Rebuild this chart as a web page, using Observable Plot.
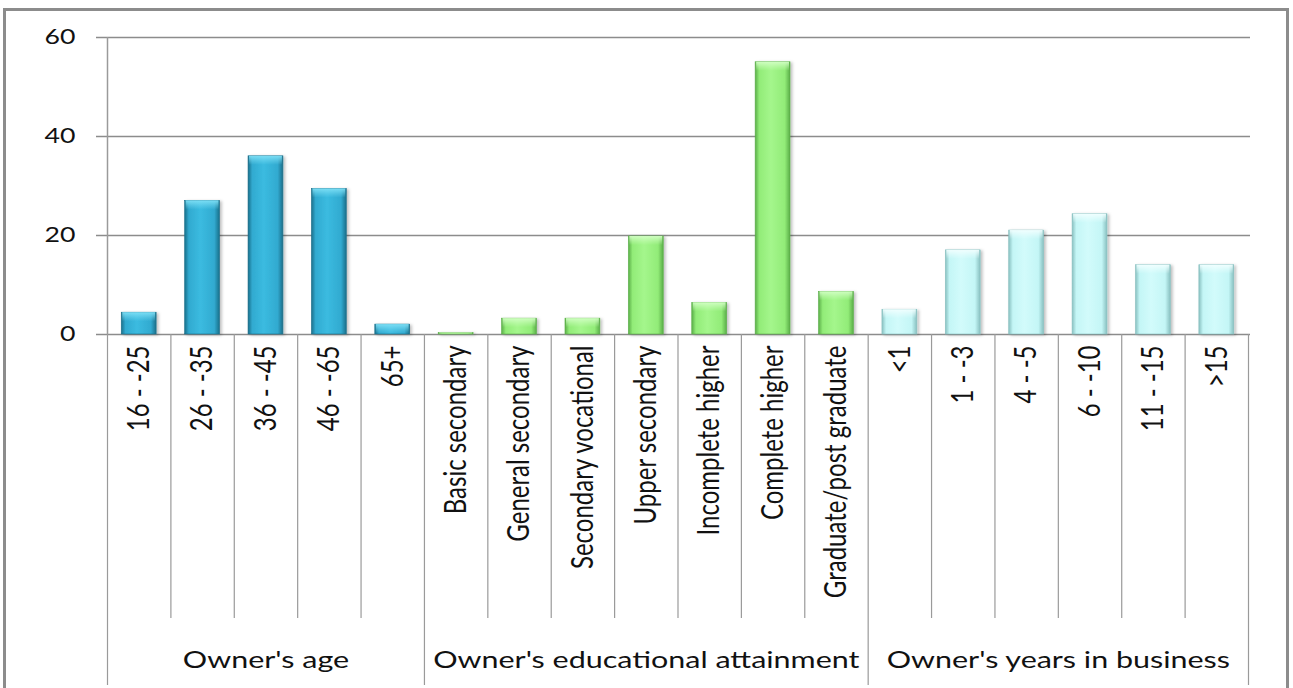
<!DOCTYPE html>
<html><head><meta charset="utf-8">
<script src="https://cdn.jsdelivr.net/npm/d3@7"></script>
<script src="https://cdn.jsdelivr.net/npm/@observablehq/plot@0.6"></script>
<style>
html,body{margin:0;padding:0;background:#fff;overflow:hidden}
#wrap{position:relative;width:1293px;height:688px;overflow:hidden}
#frame{position:absolute;left:3px;top:8px;width:1280px;height:700px;border:3px solid #8c8c8c;border-bottom:none;pointer-events:none}
#chart{position:absolute;left:0;top:0}
</style></head><body>
<div id="wrap"><div id="chart"></div><div id="frame"></div></div>
<script>
// ---- data ----
const groups = ["Owner's age", "Owner's educational attainment", "Owner's years in business"];
const ageCats = ["16 - -25", "26 - -35", "36 - -45", "46 - -65", "65+"];
const ageVals = [4.4, 27, 36, 29.4, 2];
const eduCats = ["Basic secondary", "General secondary", "Secondary vocational", "Upper secondary", "Incomplete higher", "Complete higher", "Graduate/post graduate"];
const eduVals = [0.3, 3.2, 3.2, 19.8, 6.4, 55, 8.6];
const yrsCats = ["<1", "1 - -3", "4 - -5", "6 - -10", "11 - -15", ">15"];
const yrsVals = [5, 17, 21, 24.3, 14, 14];
const yTicks = [0, 20, 40, 60];

const groupCats = [ageCats, eduCats, yrsCats];
const groupVals = [ageVals, eduVals, yrsVals];
const gradColors = [
  {edge: "#1a6f8a", mid: "#31aad0", light: "#3bbbe0", top: "#7fe0f6"},
  {edge: "#5aae48", mid: "#92ec78", light: "#a4f68c", top: "#d2ffc4"},
  {edge: "#88c0c0", mid: "#c4f6f6", light: "#d2fbfb", top: "#f2ffff"}
];

const rows = [];
groupCats.forEach((cats, gi) => cats.forEach((c, i) => rows.push({group: groups[gi], gi, cat: c, value: groupVals[gi][i]})));
const allCats = rows.map(d => d.cat);

// ---- layout ----
const W = 1293, H = 688;
const mL = 107, mR = 45, mT = 37, mB = 354;
const catDepth = 284, groupDepth = 351, labelGap = 11, groupLabelDrop = 326, bevel = 9;
const yMax = yTicks[yTicks.length - 1];
const ppu = (H - mT - mB) / yMax;
const step = (W - mL - mR) / allCats.length;
const font = "Lato, 'Open Sans', sans-serif";
const stretch = 1.27;

const firstCats = groupCats.map(c => c[0]);
const innerCats = allCats.filter(c => !firstCats.includes(c));
const lastCat = allCats[allCats.length - 1];

const groupLabelRows = groupCats.map((cats, gi) => {
  const m = (cats.length - 1) / 2;
  return {group: groups[gi], cat: cats[Math.floor(m)], off: (m - Math.floor(m)) * step};
});

const marks = [
  Plot.ruleY(yTicks, {y: d => d, stroke: "#8c8c8c", strokeWidth: 1.5, insetLeft: -11, insetRight: -2}),
  // category separators
  Plot.ruleX(innerCats, {x: d => d, y1: 0, y2: -catDepth / ppu, dx: -step / 2, stroke: "#9a9a9a", strokeWidth: 1.2}),
  Plot.ruleX(firstCats, {x: d => d, y1: 0, y2: -groupDepth / ppu, dx: -step / 2, stroke: "#9a9a9a", strokeWidth: 1.2}),
  Plot.ruleX([lastCat], {x: d => d, y1: 0, y2: -groupDepth / ppu, dx: step / 2, stroke: "#9a9a9a", strokeWidth: 1.2}),
  Plot.ruleX([allCats[0]], {x: d => d, y1: 0, y2: yMax, dx: -step / 2, stroke: "#9a9a9a", strokeWidth: 1.5}),
  // bars
  ...groups.map((g, gi) => Plot.barY(rows.filter(d => d.gi === gi), {
    x: "cat", y: "value", fill: `url(#barGrad${gi})`, stroke: gradColors[gi].edge, strokeWidth: 0.6,
    className: "bars"
  })),
  // bevel highlight on bar tops
  ...groups.map((g, gi) => Plot.barY(rows.filter(d => d.gi === gi), {
    x: "cat", y1: d => Math.max(0, d.value - bevel / ppu), y2: "value", fill: `url(#topGrad${gi})`,
    insetLeft: 1, insetRight: 1
  })),
  // category labels
  Plot.text(rows, {x: "cat", y: 0, text: "cat", rotate: -90, textAnchor: "end", lineAnchor: "middle",
    dy: labelGap, fontSize: 24, fontFamily: font, fill: "#111", className: "catlab"}),
  // group labels
  ...groupLabelRows.map(r => Plot.text([r], {x: "cat", y: 0, text: "group", dx: r.off, dy: groupLabelDrop,
    textAnchor: "middle", lineAnchor: "middle", fontSize: 24, fontFamily: font, fill: "#111", className: "grouplab"})),
  // y tick labels
  Plot.text(yTicks, {y: d => d, text: d => String(d), frameAnchor: "left", textAnchor: "end", dx: -32,
    fontSize: 21, fontFamily: font, fill: "#111", className: "ylab"})
];

const chart = Plot.plot({
  width: W, height: H,
  marginLeft: mL, marginRight: mR, marginTop: mT, marginBottom: mB,
  style: {background: "transparent", overflow: "visible"},
  x: {domain: allCats, paddingInner: 0.45, paddingOuter: 0.225, round: false, axis: null},
  y: {domain: [0, yMax], axis: null},
  marks
});

// gradients + shadow
const svg = d3.select(chart.tagName.toLowerCase() === "svg" ? chart : chart.querySelector("svg"));
const defs = svg.insert("defs", ":first-child");
gradColors.forEach((c, gi) => {
  const lg = defs.append("linearGradient").attr("id", `barGrad${gi}`).attr("x1", 0).attr("x2", 1).attr("y1", 0).attr("y2", 0);
  [[0, c.edge], [0.12, c.mid], [0.45, c.light], [0.85, c.mid], [1, c.edge]].forEach(([o, col]) =>
    lg.append("stop").attr("offset", o).attr("stop-color", col));
  const tg = defs.append("linearGradient").attr("id", `topGrad${gi}`).attr("x1", 0).attr("x2", 0).attr("y1", 0).attr("y2", 1);
  [[0, c.top, 0.95], [0.6, c.top, 0.35], [1, c.top, 0]].forEach(([o, col, op]) =>
    tg.append("stop").attr("offset", o).attr("stop-color", col).attr("stop-opacity", op));
});
const f = defs.append("filter").attr("id", "barShadow").attr("x", "-20%").attr("y", "-5%").attr("width", "150%").attr("height", "115%");
f.append("feDropShadow").attr("dx", 2).attr("dy", 1).attr("stdDeviation", 1.5).attr("flood-color", "#000").attr("flood-opacity", 0.25);
svg.selectAll("g.bars").attr("filter", "url(#barShadow)");

// mimic the horizontally stretched rendering of the source image
function stretchText(sel, sx, sy) {
  svg.selectAll(sel).each(function () {
    const t = this.getAttribute("transform");
    if (t) {
      this.setAttribute("transform", `${t} scale(${sx},${sy})`);
    } else {
      const x = +this.getAttribute("x") || 0, y = +this.getAttribute("y") || 0;
      this.removeAttribute("x"); this.removeAttribute("y");
      this.setAttribute("transform", `translate(${x},${y}) scale(${sx},${sy})`);
    }
  });
}
stretchText(".catlab text", 1, stretch);
stretchText(".grouplab text", stretch, 1);
stretchText(".ylab text", stretch, 1);

document.getElementById("chart").appendChild(chart);
</script>
</body></html>
